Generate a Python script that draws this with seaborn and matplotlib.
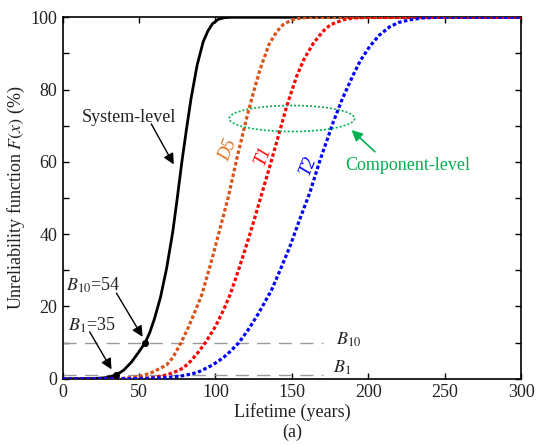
import numpy as np
import pandas as pd
import matplotlib
matplotlib.use("Agg")
import matplotlib.pyplot as plt
from matplotlib.patches import Ellipse
import seaborn as sns

# Unreliability F(x) in %, sampled along lifetime x in years
sys_x = [0, 20, 28, 35, 40, 45, 50, 54, 57, 60, 64, 68, 72, 75, 78, 81, 84, 88, 92, 95, 98, 102, 106, 110, 300]
sys_f = [0, 0.05, 0.3, 1.0, 2.4, 4.6, 7.5, 10, 12.8, 16.5, 22.5, 30.5, 40.5, 50, 60, 69, 77.5, 86.8, 93.3, 96.2, 98.2, 99.5, 99.9, 100, 100]

d5_x = [0, 40, 50, 57, 62, 68, 72, 77.5, 82, 86, 91, 97, 103, 108.5, 114, 120, 125, 129, 135, 140, 144, 150, 156, 162, 300]
d5_f = [0, 0.1, 0.6, 1.5, 2.5, 3.8, 5.8, 10, 14, 18, 23.2, 32, 41.6, 50.5, 61, 71.5, 79.5, 85.4, 92.5, 96, 97.9, 99.3, 99.8, 100, 100]

t1_x = [0, 50, 59, 68, 74, 79, 84, 89, 93.4, 100, 105, 109.5, 115, 120.3, 125, 130, 135, 140, 146.5, 153, 158, 164, 170, 175, 183.5, 190, 200, 300]
t1_f = [0, 0.1, 0.3, 1.05, 2, 3, 5, 7.5, 10, 14.5, 18.8, 23.2, 30, 37, 43.5, 50.8, 58, 65.5, 75.3, 83.6, 88.5, 92.8, 96, 97.9, 99.3, 99.8, 100, 100]

t2_x = [0, 50, 68, 78, 85, 90, 98, 105, 110, 115.3, 121, 128, 136.6, 142, 148.6, 155, 161.7, 168, 177, 183, 190, 195, 201, 207, 214, 220, 227, 235, 245, 300]
t2_f = [0, 0.05, 0.3, 0.8, 1.4, 2.1, 3.8, 5.8, 7.7, 10, 13.3, 18, 24.5, 29.8, 36.5, 44, 51.5, 60, 71, 77.5, 84, 88.2, 92, 95, 97.4, 98.6, 99.3, 99.8, 100, 100]

b_levels = [1, 10]
b_lives = [35, 54]

dotted = (0, (1.1, 0.75))
series = [
    ("System-level", sys_x, sys_f, "black", "-", 2.0),
    ("D5", d5_x, d5_f, "#D95319", dotted, 2.3),
    ("T1", t1_x, t1_f, "#FF0000", dotted, 2.3),
    ("T2", t2_x, t2_f, "#0000FF", dotted, 2.3),
]

sns.set_style("ticks")
plt.rcParams["font.family"] = ["Liberation Serif", "DejaVu Serif"]
plt.rcParams["mathtext.fontset"] = "stix"
plt.rcParams["xtick.direction"] = "in"
plt.rcParams["ytick.direction"] = "in"

fig = plt.figure(figsize=(5.43, 4.45), dpi=100)
ax = fig.add_axes([0.1153, 0.1488, 0.8447, 0.8123])

# reference lines for B1 and B10 lives
for lvl in b_levels:
    ax.plot([0, 170], [lvl, lvl], color="#9A9A9A", lw=1.0, dashes=(9.5, 6), zorder=1)

for name, xs, fs, col, ls, lw in series:
    df = pd.DataFrame({"x": xs, "F": fs})
    sns.lineplot(data=df, x="x", y="F", ax=ax, color=col, linestyle=ls, lw=lw,
                 estimator=None, sort=False, zorder=3)

ax.plot(b_lives, b_levels, "o", color="black", ms=4, zorder=5)

ax.set_xlim(0, 300)
ax.set_ylim(0, 100)
ax.set_xticks(np.arange(0, 301, 50))
ax.set_yticks(np.arange(0, 101, 10))
ax.set_yticklabels([str(v) if v % 20 == 0 else "" for v in range(0, 101, 10)])
ax.tick_params(which="both", top=True, right=True, length=4, width=1,
               labelsize=13, colors="black", labelcolor="#222222", pad=4)
for s in ax.spines.values():
    s.set_linewidth(1.2)
    s.set_color("black")

ax.set_xlabel("Lifetime (years)", fontsize=13, labelpad=1, color="#222222")
ax.set_ylabel("Unreliability function $F(x)$ (%)", fontsize=13, labelpad=2, color="#222222")
fig.text(0.5375, 0.028, "(a)", ha="center", va="center", fontsize=13, color="#222222")

arrow = dict(arrowstyle="-|>", color="black", lw=1.0, mutation_scale=16, shrinkA=0, shrinkB=0)

ax.text(43.3, 72.4, "System-level", ha="center", va="center", fontsize=13, color="#222222")
ax.annotate("", xy=(72.7, 59.3), xytext=(58.0, 70.5), arrowprops=arrow)

ax.text(2.5, 25.9, "$\\mathit{B}_{\\mathit{10}}$=54", ha="left", va="center", fontsize=13, color="#222222")
ax.annotate("", xy=(52.3, 11.6), xytext=(35.2, 23.7), arrowprops=arrow)

ax.text(3.5, 14.9, "$\\mathit{B}_{\\mathit{1}}$=35", ha="left", va="center", fontsize=13, color="#222222")
ax.annotate("", xy=(32.0, 2.6), xytext=(17.7, 13.0), arrowprops=arrow)

ax.text(178.6, 10.8, "$\\mathit{B}_{\\mathit{10}}$", ha="left", va="center", fontsize=13, color="#222222")
ax.text(177.1, 3.0, "$\\mathit{B}_{\\mathit{1}}$", ha="left", va="center", fontsize=13, color="#222222")

for name, xt, yt, col in [("D5", 108.3, 63.3, "#E07020"), ("T1", 131.2, 61.9, "#FF0000"), ("T2", 160.6, 59.1, "#0000FF")]:
    ax.text(xt, yt, name, color=col, fontsize=13, style="italic", rotation=68,
            ha="center", va="center")

ax.add_patch(Ellipse((150, 72), 82, 7.2, fill=False, edgecolor="#00B050", lw=1.2,
                     linestyle=(0, (1.2, 1.2)), zorder=4))
ax.annotate("", xy=(189.0, 68.8), xytext=(204.3, 62.8),
            arrowprops=dict(arrowstyle="-|>", color="#00B050", lw=1.2, mutation_scale=16,
                            shrinkA=0, shrinkB=0))
ax.text(225.9, 59.1, "Component-level", ha="center", va="center", fontsize=13, color="#00B050")

fig.savefig("out.png", dpi=100)
